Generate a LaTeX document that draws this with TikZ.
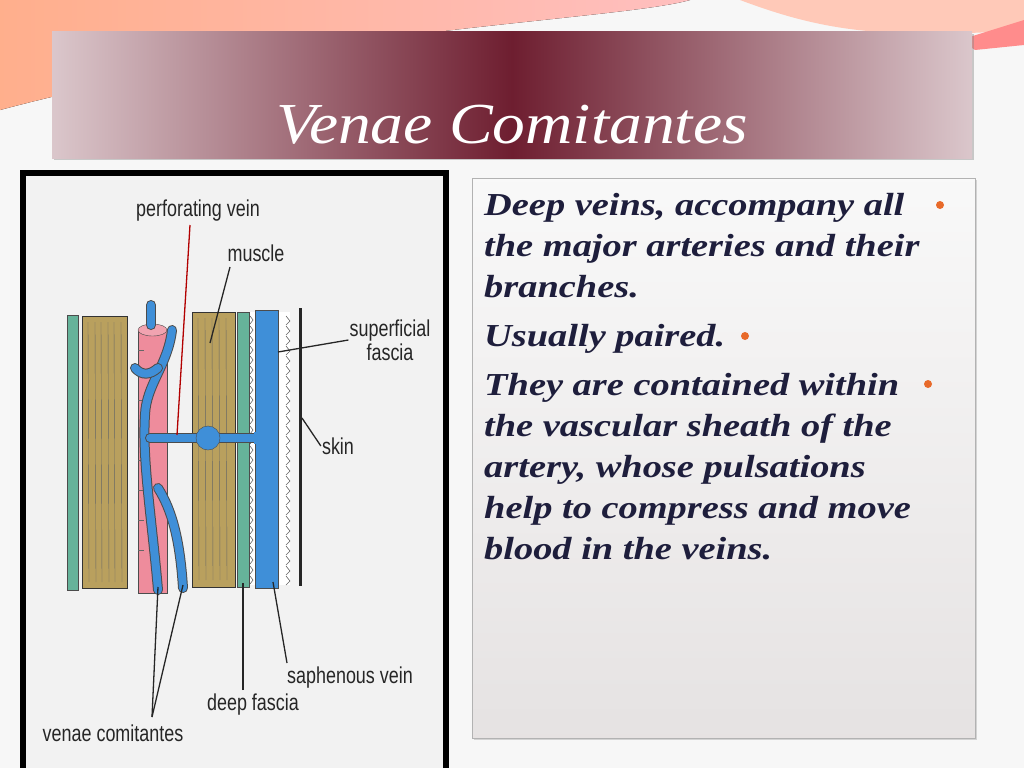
\documentclass[tikz,border=0pt]{standalone}
\usepackage{fontspec}
\setmainfont{Liberation Serif}
\newfontfamily\labfont[FakeStretch=0.78]{Liberation Sans}
\newfontfamily\wideserif[FakeStretch=1.13]{Liberation Serif}
\newfontfamily\bodyserif[FakeStretch=1.2]{Liberation Serif}
\usetikzlibrary{positioning,shadows}
\definecolor{slidebg}{HTML}{F7F7F7}
\definecolor{maroon}{HTML}{6E1E30}
\definecolor{veinblue}{HTML}{3F8FD8}
\definecolor{arterypink}{HTML}{EE8C9C}
\definecolor{musclebrown}{HTML}{B9A05E}
\definecolor{fasciagreen}{HTML}{66B39A}
\definecolor{bodytext}{HTML}{1E1E3C}
\definecolor{bulletorange}{HTML}{E86A2A}
\tikzset{
  lab/.style={font=\labfont\fontsize{23}{24}\selectfont, align=left, inner sep=1pt, text=black!85},
  pointer/.style={draw=black!85, line width=1.3pt},
  vein/.style={draw=black!70, line width=10pt, line cap=round},
  veincore/.style={draw=veinblue, line width=8pt, line cap=round},
  musclebar/.style={draw=black!80, fill=musclebrown, line width=0.8pt},
  bodyline/.style={font=\bodyserif\fontsize{32}{41}\selectfont\bfseries\itshape, text=bodytext, anchor=base west, inner sep=0pt},
  dot/.style={circle, fill=bulletorange, inner sep=0pt, minimum size=8pt}
}
\newcommand{\veinpath}[1]{\draw[vein] #1; \draw[veincore] #1;}
\begin{document}
\begin{tikzpicture}[x=1pt,y=-1pt]
\useasboundingbox (0,0) rectangle (1024,768);
\fill[slidebg] (0,0) rectangle (1024,768);
% top decoration
\fill[left color=red!40!orange!45, right color=red!25!white] (0,0) -- (690,0) .. controls (620,20) and (300,30) .. (0,110) -- cycle;
\fill[orange!20!pink!70] (740,0) .. controls (820,30) and (880,40) .. (1024,30) -- (1024,0) -- cycle;
\fill[red!45!white] (960,40) -- (1024,20) -- (1024,45) -- (975,50) -- cycle;
% title bar
\shade[left color=maroon!25, right color=maroon!25, middle color=maroon, drop shadow={opacity=0.4}]
  (52,32) rectangle (972,158);
\node[font=\wideserif\fontsize{58}{62}\selectfont\itshape, text=white] (title) at (512,125) {Venae Comitantes};
% picture frame
\fill[black] (20,170) rectangle (449,768);
\fill[gray!10] (26,176) rectangle (443,768);
% muscles and strips
\fill[fasciagreen, draw=black!70] (67,315) rectangle (78,590);
\draw[musclebar] (82,316) rectangle (127,588);
\foreach \x in {88,95,101,108,114,121} \draw[black!60] (\x,322) -- (\x+1,582);
\draw[musclebar] (192,312) rectangle (235,587);
\foreach \x in {198,205,212,219,226} \draw[black!60] (\x,318) -- (\x+1,580);
\fill[fasciagreen, draw=black!70] (237,312) rectangle (249,587);
\fill[white] (250,312) rectangle (290,585);
\foreach \y in {316,326,...,580} {
  \draw[black!60, line width=0.6pt] (250,\y) -- (253,\y+4) -- (250,\y+8);
  \draw[black!60, line width=0.6pt] (286,\y) -- (290,\y+5) -- (286,\y+9);
}
\draw[black!85, line width=3pt] (300,308) -- (300,586);
% artery
\draw[black!70, fill=arterypink] (138,330) rectangle (167,593);
\draw[black!70, fill=arterypink!80] (152.5,330) ellipse (14.5 and 6);
\foreach \y in {350,375,400,460,490,520,550} \draw[black!60] (138,\y) -- (144,\y);
% veins
\veinpath{(151,305) -- (151,325)}
\veinpath{(172,330) .. controls (168,365) and (146,385) .. (145,415) .. controls (142,460) and (152,520) .. (158,590)}
\veinpath{(135,368) .. controls (142,376) and (150,375) .. (158,368)}
\veinpath{(158,488) .. controls (172,510) and (180,540) .. (183,588)}
\veinpath{(150,438) -- (266,438)}
\draw[black!70, fill=veinblue] (208,438) circle (12);
\draw[black!70, fill=veinblue] (255,310) rectangle (278,588);
\fill[veinblue] (254,432) rectangle (259,444);
% labels
\node[lab] (perf) at (198,211) {perforating vein};
\node[lab] (musc) at (256,253) {muscle};
\node[lab, align=center] (supf) at (390,340) {superficial\\fascia};
\node[lab] (skin) at (338,446) {skin};
\node[lab] (saph) at (350,678) {saphenous vein};
\node[lab] (deep) at (253,705) {deep fascia};
\node[lab] (vcom) at (113,733) {venae comitantes};
\coordinate (perfstart) at (190,225);
\coordinate (perfend) at (177,435);
\coordinate (muscstart) at (230,267);
\coordinate (muscend) at (210,343);
\coordinate (supfend) at (278,352);
\coordinate (skinend) at (302,418);
\coordinate (saphstart) at (287,663);
\coordinate (saphend) at (273,582);
\coordinate (deepstart) at (243,690);
\coordinate (deepend) at (243,583);
\coordinate (vcomstart) at (152,717);
\coordinate (vcomA) at (158,587);
\coordinate (vcomB) at (183,585);
\draw[pointer, draw=red!70!black] (perfstart) -- (perfend);
\draw[pointer] (muscstart) -- (muscend);
\draw[pointer] (supf.west) -- (supfend);
\draw[pointer] (skin.west) -- (skinend);
\draw[pointer] (saphstart) -- (saphend);
\draw[pointer] (deepstart) -- (deepend);
\draw[pointer] (vcomstart) -- (vcomA);
\draw[pointer] (vcomstart) -- (vcomB);
% text box
\shade[top color=gray!5, bottom color=pink!20!gray!25, draw=gray!60, drop shadow={opacity=0.3}]
  (472,178) rectangle (975,738);
\node[bodyline] (l1) at (484,215) {Deep veins, accompany  all};
\node[bodyline] (l2) at (484,256) {the major arteries  and their};
\node[bodyline] (l3) at (484,297) {branches.};
\node[bodyline] (l4) at (484,346) {Usually paired.};
\node[bodyline] (l5) at (484,395) {They are contained within};
\node[bodyline] (l6) at (484,436) {the vascular sheath of the};
\node[bodyline] (l7) at (484,477) {artery, whose pulsations};
\node[bodyline] (l8) at (484,518) {help to compress and move};
\node[bodyline] (l9) at (484,559) {blood in the veins.};
\node[dot] (b1) at (940,205) {};
\node[dot] (b2) at (745,336) {};
\node[dot] (b3) at (928,384) {};
\end{tikzpicture}
\end{document}
